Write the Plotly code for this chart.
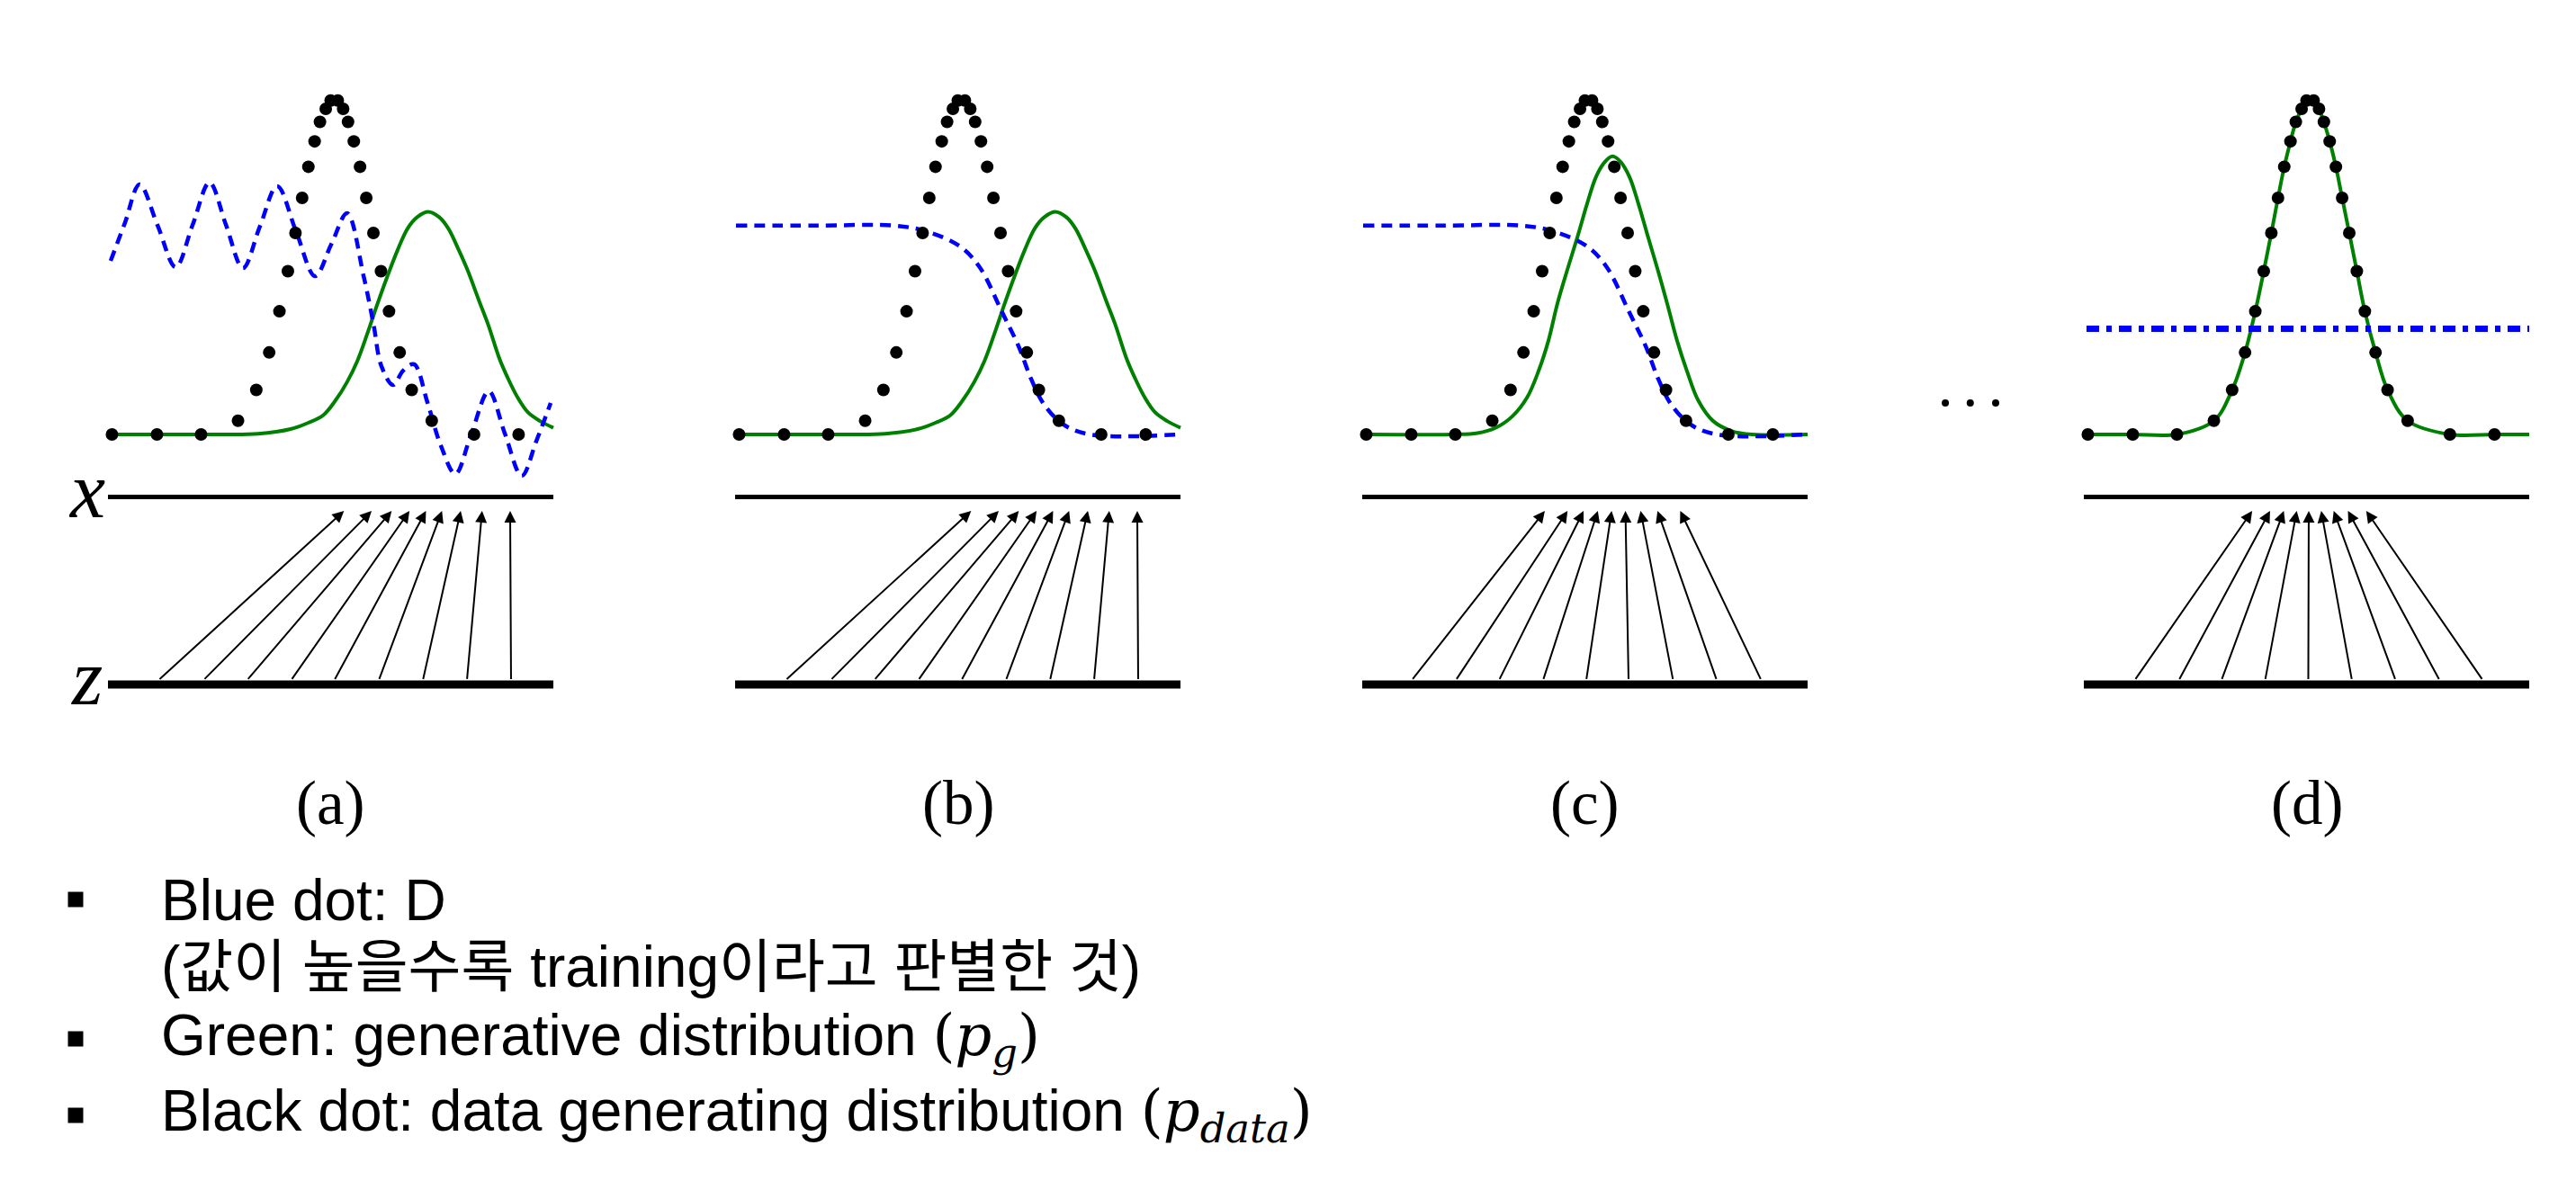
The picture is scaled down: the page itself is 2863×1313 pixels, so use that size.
import plotly.graph_objects as go

W, H = 2863, 1313

# geometry of the source picture (px)
PANEL_LEFT = [120, 817, 1514, 2316]   # where each x / z line starts
UNIT = 49.5                          # px per x unit, lines run 0..10
BASE = 483                           # px row of the density baseline
YUNIT = 372                          # px per density unit

panels = ["(a)", "(b)", "(c)", "(d)"]

# p_data (black dots), identical in every panel
pdata_x = [0.09, 1.10, 2.09, 2.92, 3.33, 3.62, 3.85, 4.04, 4.21, 4.36, 4.50, 4.64, 4.76, 4.89, 5.00,
           5.16, 5.28, 5.39, 5.52, 5.66, 5.80, 5.96, 6.13, 6.31, 6.55, 6.82, 7.27, 8.22, 9.22]
pdata_y = [0, 0, 0, 0.041, 0.133, 0.245, 0.368, 0.488, 0.602, 0.707, 0.80, 0.876, 0.934, 0.973, 0.998,
           0.998, 0.973, 0.934, 0.876, 0.80, 0.707, 0.602, 0.488, 0.368, 0.245, 0.133, 0.041, 0, 0]

# p_g (green) in (a) and (b)
green_ab_x = [0, 2.5, 3.37, 4.10, 4.50, 4.83, 5.10, 5.37, 5.60, 5.82, 6.05, 6.27, 6.50, 6.73, 6.95, 7.19,
              7.43, 7.64, 7.88, 8.08, 8.33, 8.54, 8.78, 8.99, 9.20, 9.43, 9.70, 10.0]
green_ab_y = [0, 0, 0.002, 0.016, 0.035, 0.057, 0.10, 0.157, 0.22, 0.30, 0.39, 0.471, 0.55, 0.616, 0.65, 0.665,
              0.65, 0.616, 0.55, 0.489, 0.40, 0.327, 0.23, 0.165, 0.11, 0.066, 0.04, 0.02]

# p_g in (c)
green_c_x = [0, 2.0, 2.59, 3.0, 3.37, 3.70, 3.96, 4.18, 4.38, 4.60, 4.83, 5.05, 5.25, 5.45, 5.62, 5.80,
             6.00, 6.20, 6.42, 6.64, 6.85, 7.07, 7.29, 7.55, 7.88, 8.3, 8.75, 10.0]
green_c_y = [0, 0, 0.004, 0.02, 0.054, 0.11, 0.19, 0.28, 0.39, 0.49, 0.589, 0.69, 0.77, 0.815, 0.831, 0.815,
             0.77, 0.69, 0.589, 0.49, 0.39, 0.28, 0.19, 0.10, 0.04, 0.01, 0, 0]

# p_g in (d) follows p_data
green_d_x = [0.0] + pdata_x + [10.0]
green_d_y = [0.0] + pdata_y + [0.0]

# D (blue dashed)
blue_a_x = [0.06, 0.38, 0.71, 1.11, 1.52, 1.90, 2.28, 2.65, 3.03, 3.41, 3.80, 4.22, 4.65, 5.01, 5.37,
            5.74, 5.96, 6.14, 6.40, 6.63, 6.87, 7.17, 7.47, 7.80, 8.16, 8.55, 8.91, 9.29, 9.62, 9.94]
blue_a_y = [0.519, 0.632, 0.747, 0.626, 0.50, 0.626, 0.753, 0.626, 0.497, 0.621, 0.742, 0.608, 0.473,
            0.567, 0.661, 0.473, 0.331, 0.204, 0.148, 0.191, 0.21, 0.097, -0.032, -0.118, 0.003, 0.129,
            0.003, -0.124, -0.019, 0.094]
blue_bc_x = [0.02, 1.8, 3.6, 4.32, 5.05, 5.49, 6.0, 6.36, 6.65, 6.93, 7.37, 7.96, 9.98]
blue_bc_y = [0.624, 0.624, 0.624, 0.606, 0.562, 0.50, 0.364, 0.265, 0.165, 0.091, 0.03, 0, 0]
blue_d_x = [0.06, 10.0]
blue_d_y = [0.316, 0.316]

# mapping z -> x (arrow foot on z, head on x)
arrows_ab_z = [1.13, 2.14, 3.12, 4.11, 5.08, 6.08, 7.07, 8.06, 9.05]
arrows_ab_x = [5.30, 5.92, 6.37, 6.77, 7.14, 7.50, 7.92, 8.40, 9.03]
arrows_c_z = [1.11, 2.10, 3.07, 4.06, 5.03, 5.98, 6.98, 7.96, 8.96]
arrows_c_x = [4.10, 4.61, 4.97, 5.29, 5.60, 5.91, 6.25, 6.63, 7.14]
arrows_d_z = [1.14, 2.13, 3.09, 4.07, 5.04, 6.02, 7.00, 7.99, 8.96]
arrows_d_x = [3.78, 4.18, 4.49, 4.78, 5.05, 5.33, 5.61, 5.93, 6.34]

# "..." between (c) and (d), in the (d) axis
ellipsis_x = [-3.11, -2.55, -1.98]
ellipsis_y = [0.094, 0.094, 0.094]

X_LINE = -0.187
Z_LINE = -0.747
ARROW_TOP = -0.2285
ARROW_BOT = -0.735
LABEL_Y = -1.102

GREEN = "#008000"
BLUE = "#0000ff"

ranges = [[-1.5, 10.5], [-1.5, 10.5], [-1.5, 10.5], [-4.0, 10.5]]
green = [(green_ab_x, green_ab_y), (green_ab_x, green_ab_y), (green_c_x, green_c_y), (green_d_x, green_d_y)]
blue = [(blue_a_x, blue_a_y), (blue_bc_x, blue_bc_y), (blue_bc_x, blue_bc_y), (blue_d_x, blue_d_y)]
arrows = [(arrows_ab_z, arrows_ab_x), (arrows_ab_z, arrows_ab_x), (arrows_c_z, arrows_c_x), (arrows_d_z, arrows_d_x)]

fig = go.Figure()
annotations = []
layout_axes = {}

for i in range(4):
    ax_name = "x" if i == 0 else "x%d" % (i + 1)
    key = "xaxis" if i == 0 else "xaxis%d" % (i + 1)
    r0, r1 = ranges[i]
    left = PANEL_LEFT[i]
    layout_axes[key] = dict(
        range=[r0, r1],
        domain=[(left + r0 * UNIT) / W, (left + r1 * UNIT) / W],
        visible=False, anchor="y", fixedrange=True,
    )

    # x and z lines
    fig.add_trace(go.Scatter(x=[0, 10], y=[X_LINE, X_LINE], mode="lines",
                             line=dict(color="black", width=5), xaxis=ax_name, yaxis="y"))
    fig.add_trace(go.Scatter(x=[0, 10], y=[Z_LINE, Z_LINE], mode="lines",
                             line=dict(color="black", width=9), xaxis=ax_name, yaxis="y"))

    gx, gy = green[i]
    fig.add_trace(go.Scatter(x=gx, y=gy, mode="lines", line=dict(color=GREEN, width=4, shape="spline"),
                             xaxis=ax_name, yaxis="y"))

    bx, by = blue[i]
    if i == 3:
        bline = dict(color=BLUE, width=7, dash="14px,8px,6px,8px")
    else:
        bline = dict(color=BLUE, width=4.5, dash="12px,8px", shape="spline")
    fig.add_trace(go.Scatter(x=bx, y=by, mode="lines", line=bline, xaxis=ax_name, yaxis="y"))

    fig.add_trace(go.Scatter(x=pdata_x, y=pdata_y, mode="markers",
                             marker=dict(color="black", size=14), xaxis=ax_name, yaxis="y"))

    zs, xs = arrows[i]
    for z0, x0 in zip(zs, xs):
        annotations.append(dict(
            x=x0, y=ARROW_TOP, ax=z0, ay=ARROW_BOT, xref=ax_name, yref="y", axref=ax_name, ayref="y",
            text="", showarrow=True, arrowhead=2, arrowsize=1.3, arrowwidth=2, arrowcolor="black",
            standoff=0, startstandoff=0,
        ))

    annotations.append(dict(
        x=5.0, y=LABEL_Y, xref=ax_name, yref="y", text=panels[i], showarrow=False,
        font=dict(family="Liberation Serif, Times New Roman, serif", size=69, color="black"),
        xanchor="center", yanchor="middle",
    ))

fig.add_trace(go.Scatter(x=ellipsis_x, y=ellipsis_y, mode="markers",
                         marker=dict(color="black", size=8), xaxis="x4", yaxis="y"))

# axis letters
for txt, yv in [("x", X_LINE), ("z", Z_LINE)]:
    annotations.append(dict(
        x=-0.48, y=yv + 0.02, xref="x", yref="y", text="<i>%s</i>" % txt, showarrow=False,
        font=dict(family="Liberation Serif, serif", size=88, color="black"),
        xanchor="center", yanchor="middle",
    ))

# bullet list below the figure
MATH = "font-family:DejaVu Serif"
lines = [
    (1001, "Blue dot: D"),
    (1075, "(값이 높을수록 training이라고 판별한 것)"),
    (1155, 'Green: generative distribution <span style="%s">(<i>p</i><sub><i>g</i></sub>)</span>' % MATH),
    (1239, 'Black dot: data generating distribution <span style="%s">(<i>p</i><sub><i>data</i></sub>)</span>' % MATH),
]
for yc, txt in lines:
    annotations.append(dict(
        x=177 / W, y=1 - yc / H, xref="paper", yref="paper", text=txt, showarrow=False,
        font=dict(family="Liberation Sans, Arial, Noto Sans CJK KR", size=64, color="black"),
        xanchor="left", yanchor="middle", align="left",
    ))

shapes = []
for yc in [1000, 1155, 1240]:
    shapes.append(dict(type="rect", xref="paper", yref="paper",
                       x0=75.5 / W, x1=92.5 / W, y0=1 - (yc + 8.5) / H, y1=1 - (yc - 8.5) / H,
                       fillcolor="black", line=dict(width=0)))

fig.update_layout(
    width=W, height=H,
    margin=dict(l=0, r=0, t=0, b=0),
    paper_bgcolor="white", plot_bgcolor="white",
    showlegend=False,
    yaxis=dict(range=[(BASE - H) / YUNIT, BASE / YUNIT], domain=[0, 1], visible=False, fixedrange=True),
    annotations=annotations,
    shapes=shapes,
    **layout_axes,
)

fig.write_html("out.html", config={"displayModeBar": False},
               post_script="document.body.style.margin='0';")
